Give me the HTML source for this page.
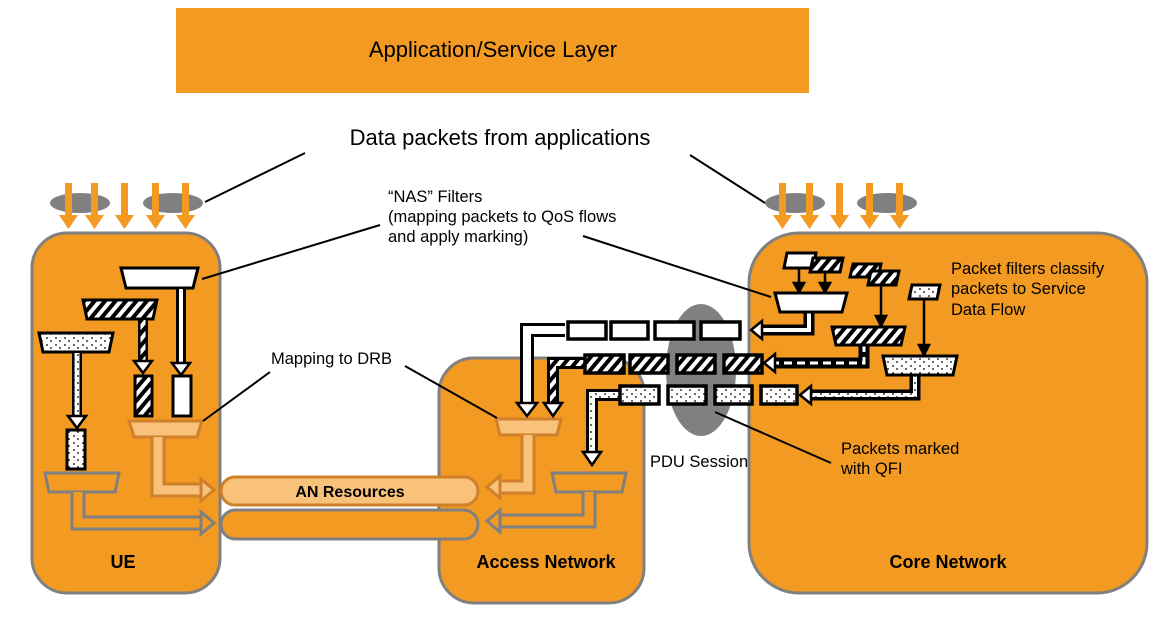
<!DOCTYPE html>
<html><head><meta charset="utf-8"><style>
html,body{margin:0;padding:0;background:#fff;}
svg{display:block;font-family:"Liberation Sans",sans-serif;}
</style></head><body>
<svg width="1170" height="619" viewBox="0 0 1170 619" xmlns="http://www.w3.org/2000/svg">
<defs>
<pattern id="h" patternUnits="userSpaceOnUse" width="8" height="8" patternTransform="rotate(40)">
<rect width="8" height="8" fill="#fff"/><rect width="4" height="8" fill="#000"/></pattern>
<pattern id="d" patternUnits="userSpaceOnUse" width="9" height="7">
<rect width="9" height="7" fill="#fff"/><circle cx="2" cy="2" r="0.9" fill="#000"/><circle cx="6" cy="5" r="0.9" fill="#000"/></pattern>
</defs>
<!-- top layer -->
<rect x="176" y="8" width="633" height="85" fill="#F29A22"/>
<text x="493" y="57" font-size="22" text-anchor="middle">Application/Service Layer</text>
<text x="500" y="145" font-size="22" text-anchor="middle">Data packets from applications</text>
<g stroke="#000" stroke-width="2"><line x1="305" y1="153" x2="205" y2="202"/><line x1="690" y1="155" x2="765" y2="203"/></g>
<!-- ellipses & arrows -->
<g fill="#808080"><ellipse cx="80" cy="203" rx="30" ry="10"/><ellipse cx="173" cy="203" rx="30" ry="10"/><ellipse cx="795" cy="203" rx="30" ry="10"/><ellipse cx="887" cy="203" rx="30" ry="10"/></g>
<g fill="#F29A22">
<path d="M65 183h7v32h6l-9.5 14-9.5-14h6z" id="oa"/>
<use href="#oa" x="26"/><use href="#oa" x="56"/><use href="#oa" x="87"/><use href="#oa" x="117"/>
<use href="#oa" x="714"/><use href="#oa" x="741"/><use href="#oa" x="771"/><use href="#oa" x="801"/><use href="#oa" x="831"/>
</g>
<!-- boxes -->
<g fill="#F29A22" stroke="#808080" stroke-width="3">
<rect x="32" y="233" width="188" height="360" rx="35"/>
<rect x="439" y="358" width="205" height="245" rx="35"/>
<rect x="749" y="233" width="398" height="360" rx="50"/>
</g>
<ellipse cx="701" cy="370" rx="35" ry="66" fill="#808080"/>
<!-- AN pipes -->
<rect x="221" y="477" width="257" height="28" rx="14" fill="#F8C27A" stroke="#D07F2A" stroke-width="3"/>
<text x="350" y="497" font-size="16" font-weight="bold" text-anchor="middle">AN Resources</text>
<rect x="221" y="510" width="257" height="29" rx="14.5" fill="#F29A22" stroke="#808080" stroke-width="3"/>
<!-- UE internals -->
<g stroke="#000" stroke-width="3">
<path d="M121 268h77l-5 20h-67z" fill="#fff"/>
<path d="M83 300h74l-4 19h-66z" fill="url(#h)"/>
<path d="M39 333h74l-4 19h-66z" fill="url(#d)"/>
<rect x="135" y="376" width="17" height="40" fill="url(#h)"/>
<rect x="173" y="376" width="18" height="40" fill="#fff"/>
<rect x="67" y="430" width="18" height="39" fill="url(#d)"/>
</g>
<!-- stem arrows UE -->
<g>
<line x1="181" y1="289" x2="181" y2="364" stroke="#000" stroke-width="10"/><line x1="181" y1="289" x2="181" y2="364" stroke="#fff" stroke-width="4"/>
<path d="M172 363h18l-9 12z" fill="#fff" stroke="#000" stroke-width="2.5"/>
<line x1="143" y1="320" x2="143" y2="362" stroke="#000" stroke-width="10"/><line x1="143" y1="320" x2="143" y2="362" stroke="url(#h)" stroke-width="5"/>
<path d="M134 361h18l-9 12z" fill="#fff" stroke="#000" stroke-width="2.5"/>
<line x1="77" y1="353" x2="77" y2="417" stroke="#000" stroke-width="10"/><line x1="77" y1="353" x2="77" y2="417" stroke="url(#d)" stroke-width="5"/>
<path d="M68 416h18l-9 12z" fill="#fff" stroke="#000" stroke-width="2.5"/>
</g>
<path d="M129 421h73l-5 16h-63z" fill="#F8C27A" stroke="#D07F2A" stroke-width="3"/>
<path d="M158 437v53h45" fill="none" stroke="#D07F2A" stroke-width="15"/>
<path d="M158 437v53h45" fill="none" stroke="#F8C27A" stroke-width="9"/>
<path d="M201 479v22l13-11z" fill="#F8C27A" stroke="#D07F2A" stroke-width="3"/>
<path d="M45 473h74l-4 19h-66z" fill="#F29A22" stroke="#808080" stroke-width="3"/>
<path d="M78 492v31h125" fill="none" stroke="#808080" stroke-width="15"/>
<path d="M78 492v31h125" fill="none" stroke="#F29A22" stroke-width="9"/>
<path d="M201 512v22l13-11z" fill="#F29A22" stroke="#808080" stroke-width="3"/>
<!-- AN internals -->
<path d="M496 419h65l-4 16h-57z" fill="#F8C27A" stroke="#D07F2A" stroke-width="3"/>
<path d="M528 435v52h-30" fill="none" stroke="#D07F2A" stroke-width="15"/>
<path d="M528 435v52h-30" fill="none" stroke="#F8C27A" stroke-width="9"/>
<path d="M500 476v22l-13-11z" fill="#F8C27A" stroke="#D07F2A" stroke-width="3"/>
<path d="M552 473h74l-4 19h-66z" fill="#F29A22" stroke="#808080" stroke-width="3"/>
<path d="M589 492v29h-91" fill="none" stroke="#808080" stroke-width="15"/>
<path d="M589 492v29h-91" fill="none" stroke="#F29A22" stroke-width="9"/>
<path d="M500 510v22l-13-11z" fill="#F29A22" stroke="#808080" stroke-width="3"/>
<!-- bent arrows into AN -->
<path d="M565 330h-38v75" fill="none" stroke="#000" stroke-width="14"/><path d="M565 330h-38v75" fill="none" stroke="#fff" stroke-width="8"/>
<path d="M517 403h20l-10 13z" fill="#fff" stroke="#000" stroke-width="2.5"/>
<path d="M584 363h-31v42" fill="none" stroke="#000" stroke-width="12"/><path d="M584 363h-31v42" fill="none" stroke="url(#h)" stroke-width="6"/>
<path d="M544 403h18l-9 13z" fill="#fff" stroke="#000" stroke-width="2.5"/>
<path d="M620 395h-28v58" fill="none" stroke="#000" stroke-width="12"/><path d="M620 395h-28v58" fill="none" stroke="url(#d)" stroke-width="6"/>
<path d="M583 452h18l-9 13z" fill="#fff" stroke="#000" stroke-width="2.5"/>
<!-- packet rows -->
<g stroke="#000" stroke-width="3.5">
<rect x="568" y="322" width="38" height="17" fill="#fff"/><rect x="611" y="322" width="37" height="17" fill="#fff"/><rect x="655" y="322" width="39" height="17" fill="#fff"/><rect x="701" y="322" width="39" height="17" fill="#fff"/>
<rect x="585" y="355" width="39" height="18" fill="url(#h)"/><rect x="630" y="355" width="38" height="18" fill="url(#h)"/><rect x="677" y="355" width="38" height="18" fill="url(#h)"/><rect x="724" y="355" width="38" height="18" fill="url(#h)"/>
<rect x="620" y="386" width="39" height="18" fill="url(#d)"/><rect x="668" y="386" width="38" height="18" fill="url(#d)"/><rect x="715" y="386" width="37" height="18" fill="url(#d)"/><rect x="761" y="386" width="36" height="18" fill="url(#d)"/>
</g>
<!-- core arrows -->
<path d="M809 310v20h-50" fill="none" stroke="#000" stroke-width="11"/><path d="M809 310v20h-50" fill="none" stroke="#fff" stroke-width="4"/>
<path d="M762 321v18l-11-9z" fill="#fff" stroke="#000" stroke-width="2.5"/>
<path d="M864 344v19h-93" fill="none" stroke="#000" stroke-width="11"/><path d="M864 344v19h-93" fill="none" stroke="#fff" stroke-width="3" stroke-dasharray="8 5"/>
<path d="M775 354v18l-11-9z" fill="#fff" stroke="#000" stroke-width="2.5"/>
<path d="M915 374v21h-107" fill="none" stroke="#000" stroke-width="11"/><path d="M915 374v21h-107" fill="none" stroke="url(#d)" stroke-width="4"/>
<path d="M811 386v18l-11-9z" fill="#fff" stroke="#000" stroke-width="2.5"/>
<!-- core filters -->
<g stroke="#000" stroke-width="3">
<path d="M787 253h29l-3 15h-29z" fill="#fff"/>
<path d="M813 258h30l-3 14h-30z" fill="url(#h)"/>
<path d="M853 264h28l-3 13h-28z" fill="url(#h)"/>
<path d="M871 271h28l-3 14h-28z" fill="url(#h)"/>
<path d="M912 285h28l-3 14h-28z" fill="url(#d)"/>
<path d="M775 293h72l-5 19h-62z" fill="#fff"/>
<path d="M832 327h73l-4 18h-65z" fill="url(#h)"/>
<path d="M883 356h74l-4 19h-66z" fill="url(#d)"/>
</g>
<g stroke="#000" stroke-width="2.5" fill="#000">
<line x1="799" y1="268" x2="799" y2="285"/><path d="M794 283h10l-5 9z"/>
<line x1="825" y1="272" x2="825" y2="285"/><path d="M820 283h10l-5 9z"/>
<line x1="881" y1="285" x2="881" y2="318"/><path d="M876 316h10l-5 10z"/>
<line x1="924" y1="299" x2="924" y2="347"/><path d="M919 345h10l-5 10z"/>
</g>
<!-- labels -->
<g font-size="16.5">
<text x="388" y="202">“NAS” Filters</text>
<text x="388" y="222">(mapping packets to QoS flows</text>
<text x="388" y="242">and apply marking)</text>
<text x="271" y="364">Mapping to DRB</text>
<text x="951" y="274">Packet filters classify</text>
<text x="951" y="294">packets to Service</text>
<text x="951" y="315">Data Flow</text>
<text x="841" y="454">Packets marked</text>
<text x="841" y="474">with QFI</text>
<text x="650" y="467">PDU Session</text>
</g>
<g stroke="#000" stroke-width="2">
<line x1="380" y1="225" x2="202" y2="279"/><line x1="583" y1="236" x2="771" y2="297"/>
<line x1="270" y1="372" x2="203" y2="421"/><line x1="405" y1="366" x2="497" y2="418"/>
<line x1="715" y1="412" x2="831" y2="463"/>
</g>
<g font-size="18" font-weight="bold" text-anchor="middle">
<text x="123" y="568">UE</text><text x="546" y="568">Access Network</text><text x="948" y="568">Core Network</text>
</g>
</svg>
</body></html>
